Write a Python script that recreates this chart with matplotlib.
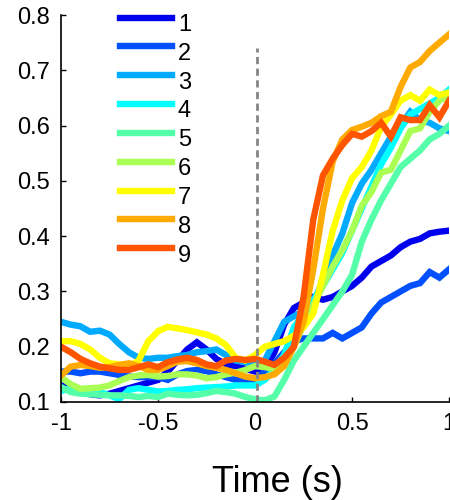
import matplotlib
matplotlib.use('Agg')
import matplotlib.pyplot as plt
import numpy as np

plt.rcParams['font.family'] = ['Liberation Sans', 'DejaVu Sans']

# time axis, 0.05 s bins
time = np.linspace(-1, 1, 41)

labels = ['1', '2', '3', '4', '5', '6', '7', '8', '9']
colors = ['#0000ee', '#0050ff', '#00aaff', '#00ffff', '#55ffaa',
          '#aaff55', '#ffff00', '#ffaa00', '#ff5500']

s1 = [0.130, 0.124, 0.117, 0.114, 0.112, 0.115, 0.120, 0.125, 0.130, 0.135, 0.140,
      0.155, 0.175, 0.195, 0.208, 0.195, 0.178, 0.168, 0.165, 0.160, 0.155,
      0.160, 0.190, 0.240, 0.270, 0.280, 0.290, 0.285, 0.290, 0.300, 0.310,
      0.325, 0.345, 0.355, 0.365, 0.380, 0.390, 0.395, 0.405, 0.408, 0.410]
s2 = [0.155, 0.155, 0.152, 0.155, 0.155, 0.152, 0.149, 0.146, 0.145, 0.145, 0.145,
      0.140, 0.150, 0.156, 0.158, 0.156, 0.150, 0.145, 0.140, 0.137, 0.140,
      0.155, 0.170, 0.190, 0.210, 0.215, 0.215, 0.215, 0.225, 0.215, 0.225,
      0.235, 0.260, 0.280, 0.290, 0.300, 0.310, 0.315, 0.335, 0.325, 0.340]
s3 = [0.245, 0.240, 0.237, 0.227, 0.229, 0.222, 0.205, 0.190, 0.180, 0.178, 0.180,
      0.180, 0.183, 0.185, 0.190, 0.192, 0.195, 0.185, 0.175, 0.172, 0.168,
      0.175, 0.210, 0.245, 0.255, 0.265, 0.280, 0.320, 0.365, 0.405, 0.460,
      0.495, 0.520, 0.550, 0.580, 0.600, 0.625, 0.610, 0.605, 0.595, 0.590]
s4 = [0.120, 0.125, 0.123, 0.120, 0.118, 0.112, 0.105, 0.122, 0.125, 0.122, 0.119,
      0.120, 0.122, 0.123, 0.125, 0.126, 0.127, 0.128, 0.130, 0.130, 0.130,
      0.140, 0.160, 0.185, 0.235, 0.260, 0.285, 0.310, 0.340, 0.370, 0.410,
      0.450, 0.490, 0.530, 0.560, 0.595, 0.620, 0.630, 0.640, 0.650, 0.665]
s5 = [0.127, 0.118, 0.115, 0.114, 0.113, 0.112, 0.112, 0.111, 0.109, 0.111, 0.109,
      0.115, 0.113, 0.112, 0.113, 0.116, 0.120, 0.118, 0.115, 0.109, 0.105,
      0.103, 0.110, 0.140, 0.175, 0.200, 0.225, 0.250, 0.275, 0.300, 0.330,
      0.390, 0.430, 0.465, 0.495, 0.525, 0.540, 0.555, 0.575, 0.585, 0.600]
s6 = [0.145, 0.132, 0.124, 0.125, 0.126, 0.130, 0.138, 0.145, 0.148, 0.149, 0.146,
      0.147, 0.150, 0.150, 0.148, 0.143, 0.145, 0.150, 0.153, 0.158, 0.165,
      0.163, 0.160, 0.170, 0.200, 0.240, 0.275, 0.310, 0.345, 0.375, 0.410,
      0.455, 0.480, 0.515, 0.520, 0.555, 0.590, 0.595, 0.625, 0.645, 0.655]
s7 = [0.210, 0.210, 0.205, 0.195, 0.180, 0.170, 0.168, 0.164, 0.175, 0.210, 0.228,
      0.236, 0.233, 0.230, 0.226, 0.222, 0.215, 0.203, 0.180, 0.175, 0.185,
      0.200, 0.205, 0.210, 0.220, 0.235, 0.260, 0.330, 0.410, 0.465, 0.505,
      0.525, 0.555, 0.598, 0.620, 0.645, 0.655, 0.645, 0.665, 0.655, 0.660]
s8 = [0.148, 0.164, 0.167, 0.165, 0.162, 0.163, 0.167, 0.170, 0.165, 0.158, 0.158,
      0.165, 0.173, 0.174, 0.170, 0.165, 0.162, 0.158, 0.152, 0.146, 0.143,
      0.145, 0.150, 0.165, 0.200, 0.245, 0.340, 0.450, 0.535, 0.575, 0.592,
      0.598, 0.605, 0.617, 0.625, 0.670, 0.705, 0.715, 0.735, 0.750, 0.765]
s9 = [0.200, 0.190, 0.178, 0.170, 0.164, 0.161, 0.158, 0.158, 0.163, 0.168, 0.163,
      0.172, 0.177, 0.180, 0.176, 0.168, 0.165, 0.175, 0.178, 0.176, 0.178,
      0.173, 0.167, 0.180, 0.200, 0.290, 0.430, 0.510, 0.540, 0.565, 0.585,
      0.580, 0.590, 0.605, 0.580, 0.615, 0.610, 0.610, 0.637, 0.615, 0.645]
series = [s1, s2, s3, s4, s5, s6, s7, s8, s9]

xticks = [-1, -0.5, 0, 0.5, 1]
xticklabels = ['-1', '-0.5', '0', '0.5', '1']
yticks = [0.1, 0.2, 0.3, 0.4, 0.5, 0.6, 0.7, 0.8]
yticklabels = ['0.1', '0.2', '0.3', '0.4', '0.5', '0.6', '0.7', '0.8']

fig = plt.figure(figsize=(4.5, 5), dpi=100)
ax = fig.add_axes([0.1356, 0.196, 0.8624, 0.774])

for y, c, lab in zip(series, colors, labels):
    ax.plot(time, y, color=c, lw=4.6, label=lab, solid_joinstyle='miter')

# stimulus onset
ax.plot([0.01, 0.01], [0.1, 0.74], color='#858585', lw=2, ls=(0, (2.6, 1.6)))

ax.set_xlim(-1, 1)
ax.set_ylim(0.1, 0.8)
ax.set_xticks(xticks)
ax.set_xticklabels(xticklabels)
ax.set_yticks(yticks)
ax.set_yticklabels(yticklabels)
ax.tick_params(direction='in', length=3.5, width=1, labelsize=17, pad=8)
ax.spines['top'].set_visible(False)
ax.spines['right'].set_visible(False)
ax.spines['left'].set_linewidth(1.2)
ax.spines['bottom'].set_linewidth(1.2)

ax.set_xlabel('Time (s)', fontsize=26)
ax.xaxis.set_label_coords(0.558, -0.162, transform=ax.transAxes)
ax.xaxis.label.set_verticalalignment('top')

leg = ax.legend(loc='upper left', bbox_to_anchor=(0.152, 1.016), frameon=False,
                fontsize=17, handlelength=2.2, handletextpad=0.25,
                labelspacing=0.29, borderpad=0, borderaxespad=0)
# labels sit a little below their line samples, as in MATLAB legends
for t in leg.get_texts():
    t.set_y(-5)

fig.savefig('out.png', dpi=100)
